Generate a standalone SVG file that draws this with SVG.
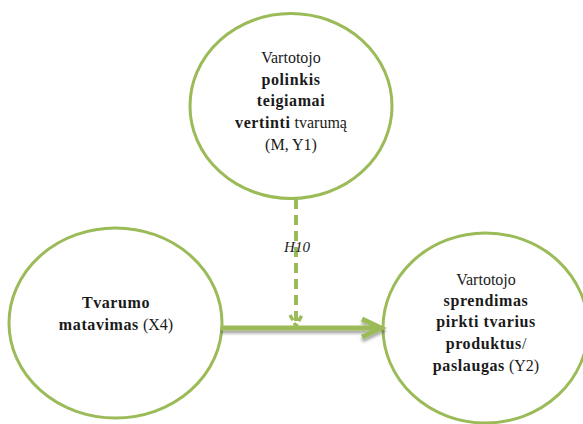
<svg xmlns="http://www.w3.org/2000/svg" width="583" height="424" viewBox="0 0 583 424">
  <defs>
    <filter id="shadow" x="-10%" y="-50%" width="120%" height="250%">
      <feGaussianBlur in="SourceAlpha" stdDeviation="1.5"/>
      <feOffset dx="0" dy="3" result="b"/>
      <feComponentTransfer><feFuncA type="linear" slope="0.35"/></feComponentTransfer>
      <feMerge><feMergeNode/><feMergeNode in="SourceGraphic"/></feMerge>
    </filter>
  </defs>
  <style>
    .node { fill: #ffffff; stroke: #9bbb59; stroke-width: 3; }
    .lbl { font-family: 'Liberation Serif', 'DejaVu Serif', serif; font-size: 16px; fill: #1a1a1a; text-anchor: middle; }
    .b { font-weight: bold; letter-spacing: 0.6px; }
    .edge { fill: none; stroke: #9bbb59; stroke-linecap: butt; stroke-linejoin: miter; }
  </style>
  <rect width="583" height="424" fill="#ffffff"/>

  <g id="node-m-y1">
    <ellipse class="node" cx="291" cy="106" rx="101" ry="92.5"/>
    <text class="lbl" x="291" y="63">Vartotojo</text>
    <text class="lbl b" x="291" y="85">polinkis</text>
    <text class="lbl b" x="291" y="106">teigiamai</text>
    <text class="lbl" x="291" y="128"><tspan class="b">vertinti</tspan> tvarumą</text>
    <text class="lbl" x="291" y="150">(M, Y1)</text>
  </g>

  <g id="node-x4">
    <ellipse class="node" cx="115.5" cy="323" rx="106.5" ry="95"/>
    <text class="lbl b" x="116" y="308">Tvarumo</text>
    <text class="lbl" x="116" y="330"><tspan class="b">matavimas</tspan> (X4)</text>
  </g>

  <g id="node-y2">
    <ellipse class="node" cx="485.5" cy="328" rx="102.5" ry="95"/>
    <text class="lbl" x="486" y="285">Vartotojo</text>
    <text class="lbl b" x="486" y="306">sprendimas</text>
    <text class="lbl b" x="486" y="327">pirkti tvarius</text>
    <text class="lbl" x="486" y="349"><tspan class="b">produktus</tspan>/</text>
    <text class="lbl" x="486" y="371"><tspan class="b">paslaugas</tspan> (Y2)</text>
  </g>

  <g id="connectors">
    <!-- X4 -> Y2 main path -->
    <g filter="url(#shadow)">
      <line class="edge" x1="221" y1="328" x2="380" y2="328" stroke-width="5"/>
      <polyline class="edge" points="362,319 381,328 362,337" stroke-width="5"/>
    </g>
    <!-- M, Y1 moderating path -->
    <g>
      <line class="edge" x1="296" y1="199" x2="296" y2="325" stroke-width="4" stroke-dasharray="10 6"/>
      <polyline class="edge" points="290,315 296,326 302,315" stroke-width="3.5" stroke-dasharray="6 3"/>
    </g>
    <text class="lbl" x="297" y="252" font-size="15" font-style="italic" style="font-size:15px">H10</text>
  </g>
</svg>
